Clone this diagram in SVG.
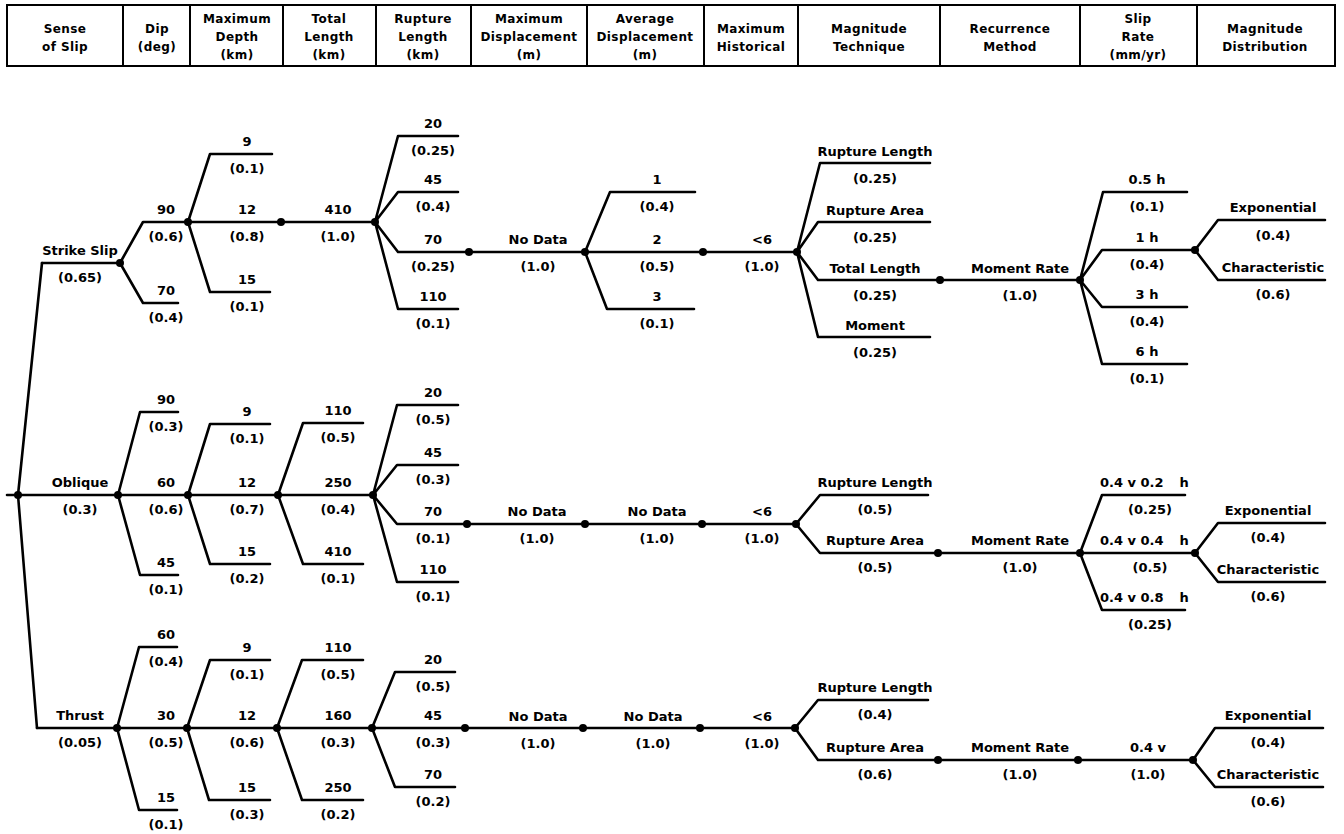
<svg xmlns="http://www.w3.org/2000/svg" width="1344" height="834" viewBox="0 0 1344 834">
<style>
.ln{fill:none;stroke:#000;stroke-width:2.6;stroke-linejoin:round;stroke-linecap:round}
.hb{fill:none;stroke:#000;stroke-width:2}
.t{font-family:"DejaVu Sans","Liberation Sans",sans-serif;font-weight:bold;font-size:13px;text-anchor:middle;fill:#000}
.h{font-family:"DejaVu Sans","Liberation Sans",sans-serif;font-weight:bold;font-size:12px;text-anchor:middle;fill:#000;letter-spacing:0.4px}
.d{fill:#000}
</style>
<rect width="1344" height="834" fill="#fff"/>
<g id="header">
<rect class="hb" x="7" y="5" width="1328" height="61"/>
<path class="hb" d="M123,5V66M190,5V66M283,5V66M376,5V66M471,5V66M587,5V66M704,5V66M798,5V66M940,5V66M1080,5V66M1197,5V66"/>
<text class="h" x="65" y="33">Sense</text><text class="h" x="65" y="51">of Slip</text>
<text class="h" x="157" y="33">Dip</text><text class="h" x="157" y="51">(deg)</text>
<text class="h" x="237" y="23">Maximum</text><text class="h" x="237" y="41">Depth</text><text class="h" x="237" y="59">(km)</text>
<text class="h" x="329" y="23">Total</text><text class="h" x="329" y="41">Length</text><text class="h" x="329" y="59">(km)</text>
<text class="h" x="423" y="23">Rupture</text><text class="h" x="423" y="41">Length</text><text class="h" x="423" y="59">(km)</text>
<text class="h" x="529" y="23">Maximum</text><text class="h" x="529" y="41">Displacement</text><text class="h" x="529" y="59">(m)</text>
<text class="h" x="645" y="23">Average</text><text class="h" x="645" y="41">Displacement</text><text class="h" x="645" y="59">(m)</text>
<text class="h" x="751" y="33">Maximum</text><text class="h" x="751" y="51">Historical</text>
<text class="h" x="869" y="33">Magnitude</text><text class="h" x="869" y="51">Technique</text>
<text class="h" x="1010" y="33">Recurrence</text><text class="h" x="1010" y="51">Method</text>
<text class="h" x="1138" y="23">Slip</text><text class="h" x="1138" y="41">Rate</text><text class="h" x="1138" y="59">(mm/yr)</text>
<text class="h" x="1265" y="33">Magnitude</text><text class="h" x="1265" y="51">Distribution</text>
</g>
<g id="connectors">
<path class="ln" d="M7,495H118M42,263L18,495L37,728"/>
<path class="ln" d="M42,263H120L143,222H188M120,263L143,303H178"/>
<path class="ln" d="M188,222L210,154H272M188,222H281M188,222L210,292H270"/>
<path class="ln" d="M281,222H375"/>
<path class="ln" d="M375,222L398,136H458M375,222L398,192H458M375,222L398,252H469M375,222L398,309H458"/>
<path class="ln" d="M469,252H585"/>
<path class="ln" d="M585,252L610,192H695M585,252H703M585,252L607,309H694"/>
<path class="ln" d="M703,252H797"/>
<path class="ln" d="M797,252L820,163H930M797,252L818,222H930M797,252L818,280H940M797,252L818,337H930"/>
<path class="ln" d="M940,280H1080"/>
<path class="ln" d="M1080,280L1103,192H1187M1080,280L1102,250H1195M1080,280L1102,307H1187M1080,280L1102,364H1187"/>
<path class="ln" d="M1195,250L1218,220H1325M1195,250L1218,280H1325"/>
<path class="ln" d="M118,495L140,412H178M118,495H188M118,495L140,575H178"/>
<path class="ln" d="M188,495L210,424H270M188,495H278M188,495L210,564H270"/>
<path class="ln" d="M278,495L303,423H363M278,495H373M278,495L303,564H363"/>
<path class="ln" d="M373,495L397,405H458M373,495L397,465H458M373,495L397,524H467M373,495L397,582H458"/>
<path class="ln" d="M467,524H796"/>
<path class="ln" d="M796,524L820,495H928M796,524L820,553H938"/>
<path class="ln" d="M938,553H1080"/>
<path class="ln" d="M1080,553L1102,495H1185M1080,553H1195M1080,553L1102,610H1185"/>
<path class="ln" d="M1195,553L1218,523H1325M1195,553L1218,582H1325"/>
<path class="ln" d="M37,728H117"/>
<path class="ln" d="M117,728L139,647H177M117,728H187M117,728L139,810H177"/>
<path class="ln" d="M187,728L210,660H270M187,728H277M187,728L209,800H270"/>
<path class="ln" d="M277,728L302,660H363M277,728H372M277,728L302,800H363"/>
<path class="ln" d="M372,728L395,672H455M372,728H465M372,728L395,787H455"/>
<path class="ln" d="M465,728H795"/>
<path class="ln" d="M795,728L818,700H928M795,728L818,760H938"/>
<path class="ln" d="M938,760H1193"/>
<path class="ln" d="M1193,760L1215,728H1323M1193,760L1215,787H1323"/>
<g class="d">
<circle cx="18" cy="495" r="4"/>
<circle cx="120" cy="263" r="4"/><circle cx="188" cy="222" r="4"/><circle cx="281" cy="222" r="4"/><circle cx="375" cy="222" r="4"/>
<circle cx="469" cy="252" r="4"/><circle cx="585" cy="252" r="4"/><circle cx="703" cy="252" r="4"/><circle cx="797" cy="252" r="4"/>
<circle cx="940" cy="280" r="4"/><circle cx="1080" cy="280" r="4"/><circle cx="1195" cy="250" r="4"/>
<circle cx="118" cy="495" r="4"/><circle cx="188" cy="495" r="4"/><circle cx="278" cy="495" r="4"/><circle cx="373" cy="495" r="4"/>
<circle cx="467" cy="524" r="4"/><circle cx="585" cy="524" r="4"/><circle cx="702" cy="524" r="4"/><circle cx="796" cy="524" r="4"/>
<circle cx="938" cy="553" r="4"/><circle cx="1080" cy="553" r="4"/><circle cx="1195" cy="553" r="4"/>
<circle cx="117" cy="728" r="4"/><circle cx="187" cy="728" r="4"/><circle cx="277" cy="728" r="4"/><circle cx="372" cy="728" r="4"/>
<circle cx="465" cy="728" r="4"/><circle cx="583" cy="728" r="4"/><circle cx="700" cy="728" r="4"/><circle cx="795" cy="728" r="4"/>
<circle cx="938" cy="760" r="4"/><circle cx="1078" cy="760" r="4"/><circle cx="1193" cy="760" r="4"/>
</g>
</g>
<g id="ss"><text class="t" x="80" y="255">Strike Slip</text><text class="t" x="80" y="282">(0.65)</text></g>
<g id="ss-dip90"><text class="t" x="166" y="214">90</text><text class="t" x="166" y="241">(0.6)</text></g>
<g id="ss-dip70"><text class="t" x="166" y="295">70</text><text class="t" x="166" y="322">(0.4)</text></g>
<g id="ss-dep9"><text class="t" x="247" y="146">9</text><text class="t" x="247" y="173">(0.1)</text></g>
<g id="ss-dep12"><text class="t" x="247" y="214">12</text><text class="t" x="247" y="241">(0.8)</text></g>
<g id="ss-dep15"><text class="t" x="247" y="284">15</text><text class="t" x="247" y="311">(0.1)</text></g>
<g id="ss-tl410"><text class="t" x="338" y="214">410</text><text class="t" x="338" y="241">(1.0)</text></g>
<g id="ss-rl20"><text class="t" x="433" y="128">20</text><text class="t" x="433" y="155">(0.25)</text></g>
<g id="ss-rl45"><text class="t" x="433" y="184">45</text><text class="t" x="433" y="211">(0.4)</text></g>
<g id="ss-rl70"><text class="t" x="433" y="244">70</text><text class="t" x="433" y="271">(0.25)</text></g>
<g id="ss-rl110"><text class="t" x="433" y="301">110</text><text class="t" x="433" y="328">(0.1)</text></g>
<g id="ss-md"><text class="t" x="538" y="244">No Data</text><text class="t" x="538" y="271">(1.0)</text></g>
<g id="ss-ad1"><text class="t" x="657" y="184">1</text><text class="t" x="657" y="211">(0.4)</text></g>
<g id="ss-ad2"><text class="t" x="657" y="244">2</text><text class="t" x="657" y="271">(0.5)</text></g>
<g id="ss-ad3"><text class="t" x="657" y="301">3</text><text class="t" x="657" y="328">(0.1)</text></g>
<g id="ss-mh"><text class="t" x="762" y="244">&lt;6</text><text class="t" x="762" y="271">(1.0)</text></g>
<g id="ss-mt1"><text class="t" x="875" y="156">Rupture Length</text><text class="t" x="875" y="183">(0.25)</text></g>
<g id="ss-mt2"><text class="t" x="875" y="215">Rupture Area</text><text class="t" x="875" y="242">(0.25)</text></g>
<g id="ss-mt3"><text class="t" x="875" y="273">Total Length</text><text class="t" x="875" y="300">(0.25)</text></g>
<g id="ss-mt4"><text class="t" x="875" y="330">Moment</text><text class="t" x="875" y="357">(0.25)</text></g>
<g id="ss-rm"><text class="t" x="1020" y="273">Moment Rate</text><text class="t" x="1020" y="300">(1.0)</text></g>
<g id="ss-sr1"><text class="t" x="1147" y="184">0.5 h</text><text class="t" x="1147" y="211">(0.1)</text></g>
<g id="ss-sr2"><text class="t" x="1147" y="242">1 h</text><text class="t" x="1147" y="269">(0.4)</text></g>
<g id="ss-sr3"><text class="t" x="1147" y="299">3 h</text><text class="t" x="1147" y="326">(0.4)</text></g>
<g id="ss-sr4"><text class="t" x="1147" y="356">6 h</text><text class="t" x="1147" y="383">(0.1)</text></g>
<g id="ss-mdexp"><text class="t" x="1273" y="212">Exponential</text><text class="t" x="1273" y="240">(0.4)</text></g>
<g id="ss-mdchar"><text class="t" x="1273" y="272">Characteristic</text><text class="t" x="1273" y="299">(0.6)</text></g>
<g id="ob"><text class="t" x="80" y="487">Oblique</text><text class="t" x="80" y="514">(0.3)</text></g>
<g id="ob-dip90"><text class="t" x="166" y="404">90</text><text class="t" x="166" y="431">(0.3)</text></g>
<g id="ob-dip60"><text class="t" x="166" y="487">60</text><text class="t" x="166" y="514">(0.6)</text></g>
<g id="ob-dip45"><text class="t" x="166" y="567">45</text><text class="t" x="166" y="594">(0.1)</text></g>
<g id="ob-dep9"><text class="t" x="247" y="416">9</text><text class="t" x="247" y="443">(0.1)</text></g>
<g id="ob-dep12"><text class="t" x="247" y="487">12</text><text class="t" x="247" y="514">(0.7)</text></g>
<g id="ob-dep15"><text class="t" x="247" y="556">15</text><text class="t" x="247" y="583">(0.2)</text></g>
<g id="ob-tl110"><text class="t" x="338" y="415">110</text><text class="t" x="338" y="442">(0.5)</text></g>
<g id="ob-tl250"><text class="t" x="338" y="487">250</text><text class="t" x="338" y="514">(0.4)</text></g>
<g id="ob-tl410"><text class="t" x="338" y="556">410</text><text class="t" x="338" y="583">(0.1)</text></g>
<g id="ob-rl20"><text class="t" x="433" y="397">20</text><text class="t" x="433" y="424">(0.5)</text></g>
<g id="ob-rl45"><text class="t" x="433" y="457">45</text><text class="t" x="433" y="484">(0.3)</text></g>
<g id="ob-rl70"><text class="t" x="433" y="516">70</text><text class="t" x="433" y="543">(0.1)</text></g>
<g id="ob-rl110"><text class="t" x="433" y="574">110</text><text class="t" x="433" y="601">(0.1)</text></g>
<g id="ob-md"><text class="t" x="537" y="516">No Data</text><text class="t" x="537" y="543">(1.0)</text></g>
<g id="ob-ad"><text class="t" x="657" y="516">No Data</text><text class="t" x="657" y="543">(1.0)</text></g>
<g id="ob-mh"><text class="t" x="762" y="516">&lt;6</text><text class="t" x="762" y="543">(1.0)</text></g>
<g id="ob-mt1"><text class="t" x="875" y="487">Rupture Length</text><text class="t" x="875" y="514">(0.5)</text></g>
<g id="ob-mt2"><text class="t" x="875" y="545">Rupture Area</text><text class="t" x="875" y="572">(0.5)</text></g>
<g id="ob-rm"><text class="t" x="1020" y="545">Moment Rate</text><text class="t" x="1020" y="572">(1.0)</text></g>
<g id="ob-sr1"><text class="t" x="1100" y="487" style="text-anchor:start">0.4 v 0.2<tspan dx="16">h</tspan></text><text class="t" x="1150" y="514">(0.25)</text></g>
<g id="ob-sr2"><text class="t" x="1100" y="545" style="text-anchor:start">0.4 v 0.4<tspan dx="16">h</tspan></text><text class="t" x="1150" y="572">(0.5)</text></g>
<g id="ob-sr3"><text class="t" x="1100" y="602" style="text-anchor:start">0.4 v 0.8<tspan dx="16">h</tspan></text><text class="t" x="1150" y="629">(0.25)</text></g>
<g id="ob-mdexp"><text class="t" x="1268" y="515">Exponential</text><text class="t" x="1268" y="542">(0.4)</text></g>
<g id="ob-mdchar"><text class="t" x="1268" y="574">Characteristic</text><text class="t" x="1268" y="601">(0.6)</text></g>
<g id="th"><text class="t" x="80" y="720">Thrust</text><text class="t" x="80" y="747">(0.05)</text></g>
<g id="th-dip60"><text class="t" x="166" y="639">60</text><text class="t" x="166" y="666">(0.4)</text></g>
<g id="th-dip30"><text class="t" x="166" y="720">30</text><text class="t" x="166" y="747">(0.5)</text></g>
<g id="th-dip15"><text class="t" x="166" y="802">15</text><text class="t" x="166" y="829">(0.1)</text></g>
<g id="th-dep9"><text class="t" x="247" y="652">9</text><text class="t" x="247" y="679">(0.1)</text></g>
<g id="th-dep12"><text class="t" x="247" y="720">12</text><text class="t" x="247" y="747">(0.6)</text></g>
<g id="th-dep15"><text class="t" x="247" y="792">15</text><text class="t" x="247" y="819">(0.3)</text></g>
<g id="th-tl110"><text class="t" x="338" y="652">110</text><text class="t" x="338" y="679">(0.5)</text></g>
<g id="th-tl160"><text class="t" x="338" y="720">160</text><text class="t" x="338" y="747">(0.3)</text></g>
<g id="th-tl250"><text class="t" x="338" y="792">250</text><text class="t" x="338" y="819">(0.2)</text></g>
<g id="th-rl20"><text class="t" x="433" y="664">20</text><text class="t" x="433" y="691">(0.5)</text></g>
<g id="th-rl45"><text class="t" x="433" y="720">45</text><text class="t" x="433" y="747">(0.3)</text></g>
<g id="th-rl70"><text class="t" x="433" y="779">70</text><text class="t" x="433" y="806">(0.2)</text></g>
<g id="th-md"><text class="t" x="538" y="721">No Data</text><text class="t" x="538" y="748">(1.0)</text></g>
<g id="th-ad"><text class="t" x="653" y="721">No Data</text><text class="t" x="653" y="748">(1.0)</text></g>
<g id="th-mh"><text class="t" x="762" y="721">&lt;6</text><text class="t" x="762" y="748">(1.0)</text></g>
<g id="th-mt1"><text class="t" x="875" y="692">Rupture Length</text><text class="t" x="875" y="719">(0.4)</text></g>
<g id="th-mt2"><text class="t" x="875" y="752">Rupture Area</text><text class="t" x="875" y="779">(0.6)</text></g>
<g id="th-rm"><text class="t" x="1020" y="752">Moment Rate</text><text class="t" x="1020" y="779">(1.0)</text></g>
<g id="th-sr"><text class="t" x="1148" y="752">0.4 v</text><text class="t" x="1148" y="779">(1.0)</text></g>
<g id="th-mdexp"><text class="t" x="1268" y="720">Exponential</text><text class="t" x="1268" y="747">(0.4)</text></g>
<g id="th-mdchar"><text class="t" x="1268" y="779">Characteristic</text><text class="t" x="1268" y="806">(0.6)</text></g>
</svg>
